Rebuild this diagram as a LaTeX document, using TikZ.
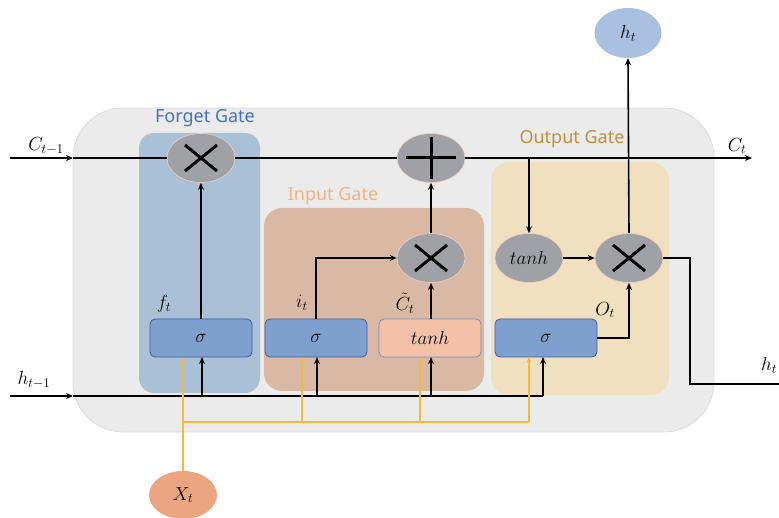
\RequirePackage{fix-cm}
\documentclass[tikz,border=0pt]{standalone}
\usepackage{fontspec}
\setsansfont{Noto Sans}
\usetikzlibrary{shapes.geometric,arrows.meta}
\definecolor{bgc}{HTML}{EBEBEB}
\definecolor{bgb}{HTML}{DCDCDC}
\definecolor{fgc}{HTML}{A9C0D6}
\definecolor{igc}{HTML}{D9B8A4}
\definecolor{ogc}{HTML}{F0E0C0}
\definecolor{sigf}{HTML}{7F9FCF}
\definecolor{sigb}{HTML}{3F5F9F}
\definecolor{tanf}{HTML}{F4C0A8}
\definecolor{opc}{HTML}{A0A1A6}
\definecolor{opb}{HTML}{F0D0C0}
\definecolor{htc}{HTML}{A9C0E0}
\definecolor{xtc}{HTML}{EBA580}
\definecolor{orl}{HTML}{F5B841}
\definecolor{fgt}{HTML}{4472C4}
\definecolor{igt}{HTML}{F4B183}
\definecolor{ogt}{HTML}{BF9040}
\begin{document}
\begin{tikzpicture}[x=1pt,y=-1pt,
  line/.style={line width=1.6pt,black},
  arr/.style={line width=1.6pt,black,-{Stealth[length=7pt,width=6pt]}},
  oline/.style={line width=1.4pt,orl},
  oarr/.style={line width=1.4pt,orl,-{Stealth[length=6pt,width=5pt]}},
  opnode/.style={ellipse,draw=opb,line width=0.6pt,fill=opc,minimum width=68pt,minimum height=49pt,inner sep=0pt},
  sigbox/.style={rectangle,rounded corners=5pt,draw=sigb,line width=0.8pt,fill=sigf,minimum width=102pt,minimum height=38pt,inner sep=0pt,font=\fontsize{19}{22}\selectfont},
  tanbox/.style={sigbox,fill=tanf,draw=sigb!70},
  gatelabel/.style={font=\sffamily\fontsize{18}{21}\selectfont,inner sep=0pt},
  mlabel/.style={font=\fontsize{19}{22}\selectfont,inner sep=0pt},
  crossline/.style={line width=3pt,black}
]
\useasboundingbox (0,0) rectangle (779,518);
% backgrounds
\draw[fill=bgc,draw=bgb,line width=0.8pt,rounded corners=50pt] (73,108) rectangle (714,432);
\fill[fgc,rounded corners=15pt] (139,133) rectangle (260,393);
\fill[igc,rounded corners=18pt] (264,208) rectangle (484,391);
\fill[ogc,rounded corners=18pt] (491,162) rectangle (669,395);
\node[gatelabel,text=fgt] (fgl) at (205,118) {Forget Gate};
\node[gatelabel,text=igt] (igl) at (333,196) {Input Gate};
\node[gatelabel,text=ogt] (ogl) at (572,139) {Output Gate};
% operation nodes
\node[opnode] (fx) at (201,158) {};
\node[opnode] (plus) at (431,158) {};
\node[opnode] (ix) at (431,258) {};
\node[opnode] (tanh) at (529,258) {\fontsize{19}{22}\selectfont$tanh$};
\node[opnode] (ox) at (629,258) {};
\node[ellipse,fill=htc,minimum width=67pt,minimum height=50pt,inner sep=0pt,font=\fontsize{19}{22}\selectfont] (htop) at (628,33) {$h_t$};
\node[ellipse,fill=xtc,minimum width=68pt,minimum height=48pt,inner sep=0pt,font=\fontsize{19}{22}\selectfont] (xt) at (183,495) {$X_t$};
% crosses
\foreach \n in {fx,ix,ox}{
  \draw[crossline] ([shift={(-16,-13)}]\n.center) -- ([shift={(16,13)}]\n.center);
  \draw[crossline] ([shift={(-16,13)}]\n.center) -- ([shift={(16,-13)}]\n.center);
}
\draw[crossline] ([shift={(-25,0)}]plus.center) -- ([shift={(25,0)}]plus.center);
\draw[crossline] ([shift={(0,-21)}]plus.center) -- ([shift={(0,21)}]plus.center);
% sigma boxes
\node[sigbox] (fs) at (201,338) {$\sigma$};
\node[sigbox] (is) at (316,338) {$\sigma$};
\node[tanbox] (tb) at (430,338) {$tanh$};
\node[sigbox] (os) at (546,338) {$\sigma$};
% labels
\node[mlabel] (cl) at (46,146) {$C_{t-1}$};
\node[mlabel] (ctl) at (737,146) {$C_t$};
\node[mlabel] (hl) at (34,380) {$h_{t-1}$};
\node[mlabel] (htl) at (769,365) {$h_t$};
\node[mlabel] (ftl) at (164,304) {$f_t$};
\node[mlabel] (itl) at (302,303) {$i_t$};
\node[mlabel] (ctil) at (405,303) {$\tilde{C}_t$};
\node[mlabel] (otl) at (605,310) {$O_t$};
% coordinates
\coordinate (cin) at (10,158);
\coordinate (cent) at (73,158);
\coordinate (cout) at (752,158);
\coordinate (hin) at (10,396);
\coordinate (hent) at (73,396);
\coordinate (hend) at (779,384);
% cell state line
\draw[arr] (cin) -- (cent);
\draw[line] (cent) -- (fx.west);
\draw[line] (fx.east) -- (plus.west);
\draw[arr] (plus.east) -- (cout);
% hidden input line
\draw[arr] (hin) -- (hent);
\draw[line] (hent) -- (543,396);
\draw[arr] (543,396) -- (543,357);
\draw[arr] (202,396) -- (202,357);
\draw[arr] (317,396) -- (317,357);
\draw[arr] (431,396) -- (431,357);
% orange x_t lines
\draw[oarr] (xt.north) -- (183,357);
\draw[oline] (183,422) -- (529,422);
\draw[oarr] (302,422) -- (302,357);
\draw[oarr] (420,422) -- (420,357);
\draw[oarr] (529,422) -- (529,357);
% gate internal connectors
\draw[arr] (fs.north -| fx.south) -- (fx.south);
\draw[arr] (is.north) |- (ix.west);
\draw[arr] (tb.north -| ix.south) -- (ix.south);
\draw[arr] (ix.north) -- (plus.south);
\draw[arr] (529,158) -- (tanh.north);
\draw[arr] (tanh.east) -- (ox.west);
\draw[arr] (os.east) -| (ox.south);
\draw[arr] (ox.north) -- (htop.south);
\draw[line] (ox.east) -- (690,258) -- (690,384) -- (hend);
\end{tikzpicture}
\end{document}
